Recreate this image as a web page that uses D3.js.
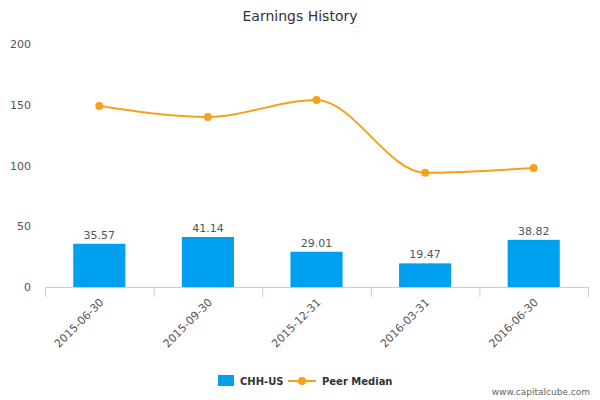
<!DOCTYPE html>
<html><head><meta charset="utf-8">
<script src="https://cdn.jsdelivr.net/npm/d3@7"></script>
<style>body{margin:0;background:#fff}text{font-family:"DejaVu Sans",sans-serif}</style>
</head><body><svg id="c" width="600" height="400"></svg>
<script>
const categories=["2015-06-30","2015-09-30","2015-12-31","2016-03-31","2016-06-30"];
const chhValues=[35.57,41.14,29.01,19.47,38.82];
const peerMedian=[149,140,154,94,98];
const yTicks=[0,50,100,150,200];
const svg=d3.select("#c");
const m={l:45,r:12,t:44,b:113};
const W=600,H=400;
const x=d3.scaleBand().domain(categories).range([m.l,W-m.r]).paddingInner(0.52).paddingOuter(0.26);
const xb=d3.scaleBand().domain(categories).range([m.l,W-m.r]);
const y=d3.scaleLinear().domain([0,200]).range([H-m.b,m.t]);
svg.append("text").attr("x",300).attr("y",21).attr("text-anchor","middle").attr("font-size",14).attr("fill","#333").text("Earnings History");
svg.selectAll(".yl").data(yTicks).enter().append("text").attr("x",31).attr("y",d=>y(d)+4).attr("text-anchor","end").attr("font-size",11).attr("fill","#555").text(d=>d);
svg.append("line").attr("x1",m.l).attr("x2",W-m.r).attr("y1",y(0)+0.5).attr("y2",y(0)+0.5).attr("stroke","#c0d0e0");
const ticks=[m.l,...categories.map(c=>xb(c)+xb.bandwidth())];
svg.selectAll(".tk").data(ticks).enter().append("line").attr("x1",d=>d+0.5).attr("x2",d=>d+0.5).attr("y1",y(0)).attr("y2",y(0)+10).attr("stroke","#c0d0e0");
svg.selectAll(".bar").data(categories).enter().append("rect").attr("x",d=>x(d)).attr("width",x.bandwidth()).attr("y",(d,i)=>y(chhValues[i])).attr("height",(d,i)=>y(0)-y(chhValues[i])).attr("fill","#00a0f0");
svg.selectAll(".bl").data(categories).enter().append("text").attr("x",d=>x(d)+x.bandwidth()/2).attr("y",(d,i)=>y(chhValues[i])-5).attr("text-anchor","middle").attr("font-size",11).attr("fill","#555").text((d,i)=>chhValues[i].toFixed(2));
const cx=d=>xb(d)+xb.bandwidth()/2;
svg.append("path").datum(categories).attr("d",d3.line().x(cx).y((d,i)=>y(peerMedian[i])).curve(d3.curveMonotoneX)).attr("fill","none").attr("stroke","#f8a01c").attr("stroke-width",2);
svg.selectAll(".pt").data(categories).enter().append("circle").attr("cx",cx).attr("cy",(d,i)=>y(peerMedian[i])).attr("r",4).attr("fill","#f8a01c");
svg.selectAll(".xl").data(categories).enter().append("text").attr("transform",d=>`translate(${cx(d)+5},${y(0)+16}) rotate(-45)`).attr("text-anchor","end").attr("font-size",11).attr("fill","#555").text(d=>d);
const lg=svg.append("g");
lg.append("rect").attr("x",218).attr("y",375).attr("width",16).attr("height",11).attr("fill","#00a0f0");
lg.append("text").attr("x",240).attr("y",385).attr("font-size",10).attr("font-weight","bold").attr("fill","#333").text("CHH-US");
lg.append("line").attr("x1",288).attr("x2",316).attr("y1",381).attr("y2",381).attr("stroke","#f8a01c").attr("stroke-width",2);
lg.append("circle").attr("cx",302).attr("cy",381).attr("r",4).attr("fill","#f8a01c");
lg.append("text").attr("x",322).attr("y",385).attr("font-size",10).attr("font-weight","bold").attr("fill","#333").text("Peer Median");
svg.append("text").attr("x",590).attr("y",395).attr("text-anchor","end").attr("font-size",9).attr("fill","#666").text("www.capitalcube.com");
</script></body></html>
